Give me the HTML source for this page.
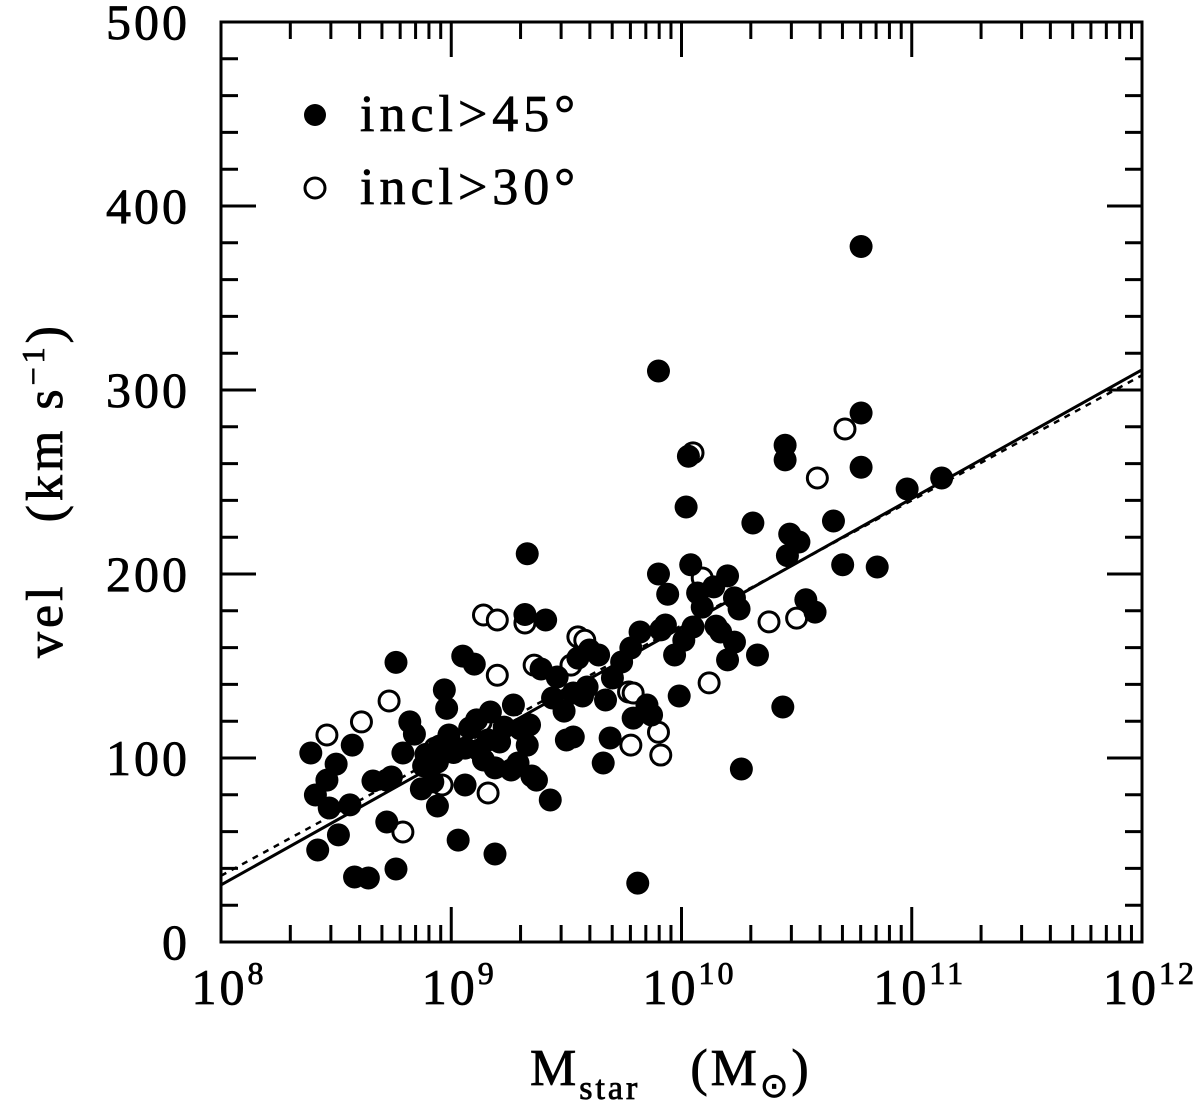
<!DOCTYPE html>
<html><head><meta charset="utf-8"><style>
html,body{margin:0;padding:0;background:#fff;}
svg{display:block;font-family:"Liberation Serif",serif;}
.t{stroke:#000;stroke-width:0.8;}
</style></head><body>
<svg id="chart" width="1200" height="1109" viewBox="0 0 1200 1109" xmlns="http://www.w3.org/2000/svg">
<g id="ticks"></g>
<g id="fits"></g>
<g id="pts"></g>
<rect x="221" y="22" width="921" height="920" fill="none" stroke="#000" stroke-width="3"/>
<g id="labels" class="t" font-size="50" letter-spacing="3"></g>
<text class="t" transform="translate(62,490) rotate(-90)" text-anchor="middle" font-size="52" letter-spacing="4">vel<tspan dx="60">(km s</tspan><tspan dy="-18" font-size="32">−1</tspan><tspan dy="18">)</tspan></text>
<text class="t" x="530" y="1085" font-size="52" letter-spacing="3">M<tspan dy="14" font-size="34">star</tspan><tspan dy="-14" dx="50">(M</tspan><tspan dy="12" font-size="34">⊙</tspan><tspan dy="-12">)</tspan></text>
<g>
<circle cx="315" cy="115" r="11" fill="#000"/>
<text class="t" x="360" y="131" font-size="52" letter-spacing="5">incl&gt;45°</text>
<circle cx="315" cy="188" r="10" fill="#fff" stroke="#000" stroke-width="3"/>
<text class="t" x="360" y="204" font-size="52" letter-spacing="5">incl&gt;30°</text>
</g>
</svg>
<script>
const filledLogM=[8.39,8.41,8.42,8.47,8.46,8.50,8.51,8.57,8.56,8.58,8.64,8.66,8.72,8.72,8.74,8.76,8.79,8.82,8.76,8.84,8.87,8.88,8.89,8.92,8.94,8.94,8.95,8.97,8.98,8.99,9.01,9.03,9.05,9.06,9.06,9.08,9.10,9.11,9.12,9.14,9.16,9.17,9.19,9.19,9.21,9.23,9.26,9.27,9.29,9.30,9.32,9.33,9.33,9.34,9.35,9.37,9.39,9.41,9.43,9.44,9.46,9.49,9.50,9.53,9.53,9.55,9.57,9.59,9.60,9.64,9.67,9.66,9.69,9.70,9.74,9.78,9.79,9.81,9.82,9.85,9.87,9.90,9.91,9.93,9.94,9.97,9.99,10.01,10.02,10.03,10.04,10.05,10.07,10.09,10.14,10.15,10.17,10.20,10.20,10.23,10.25,10.23,10.26,10.31,10.33,10.44,10.45,10.45,10.47,10.46,10.51,10.54,10.58,10.66,10.70,10.78,10.78,10.78,10.85,9.90,10.98,11.13];
const filledVel=[102.7,79.9,50,72.8,88,96.7,58.2,107,74.5,35.3,34.8,87.5,88,65.2,89.7,39.7,102.7,119.6,152,113,83.2,95.7,102,87,73.9,97.8,106.5,137,127,112.5,103,55.4,155.4,85.3,105.4,116.3,151,120.7,104.3,98.9,109.8,125,94.6,47.8,108.7,116.8,93.5,128.8,97.3,115.8,178,211,107,118,90.2,88,148.4,175,77.2,132.6,144,125.5,109.8,135.3,111.4,154.3,133.7,138.6,158.7,156,131.5,97.3,110.9,143.5,152.2,159.8,121.7,32,168.5,128.8,123.4,200,169.6,172.3,189,156,133.7,164,236.4,264,205,171.2,189.7,182,193,171.7,168.5,199,153.3,187,181,163,94,227.7,156,127.7,270,262,221.7,210,217.4,186,179.3,228.8,205,378,258,287.5,203.8,310.3,246.2,252.2];
const openLogM=[8.46,8.61,8.73,8.79,8.93,8.96,9.13,9.16,9.14,9.20,9.32,9.36,9.52,9.55,9.58,9.20,9.77,9.79,9.78,9.90,9.91,10.05,10.09,10.12,10.38,10.50,10.59,10.71];
const openVel=[112.5,119.6,131,59.8,105.4,85.3,119.6,81,177.7,175,173.4,150.5,150.5,165.8,164,145,135.9,135.3,107,114,101.6,265.8,197.8,140.8,174,176,252.2,278.8];
const fitSolid=[31,70];   // v = a + b*(logM-8)
const fitDotted=[36,68];
const yTicks=[0,100,200,300,400,500];
const xDecades=[8,9,10,11,12];

const NS="http://www.w3.org/2000/svg";
const X0=221,X1=1142,Y0=942,Y1=22;
const sx=l=>X0+(l-8)/4*(X1-X0);
const sy=v=>Y0-v/500*(Y0-Y1);
function mk(tag,attrs,parent){const e=document.createElementNS(NS,tag);for(const k in attrs)e.setAttribute(k,attrs[k]);parent.appendChild(e);return e;}
const T=document.getElementById('ticks'),L=document.getElementById('labels'),F=document.getElementById('fits'),P=document.getElementById('pts');
for(let v=0;v<=500;v+=20){const maj=v%100===0,len=maj?35:17,y=sy(v);
 const a=mk('line',{x1:X0,x2:X0+len,y1:y,y2:y,stroke:'#000','stroke-width':3},T);
 
 
 const b=mk('line',{x1:X1,x2:X1-len,y1:y,y2:y,stroke:'#000','stroke-width':3},T);
 
 }
yTicks.forEach(v=>{const t=mk('text',{x:190,y:sy(v)+17,'text-anchor':'end'},L);t.textContent=String(v);
 
 });
for(let d=8;d<12;d++){for(let m=1;m<10;m++){const l=d+Math.log10(m),maj=m===1,len=maj?35:17,x=sx(l);
 if(maj&&d===8)continue;
 const a=mk('line',{x1:x,x2:x,y1:Y0,y2:Y0-len,stroke:'#000','stroke-width':3},T);
 
 
 const b=mk('line',{x1:x,x2:x,y1:Y1,y2:Y1+len,stroke:'#000','stroke-width':3},T);
 
 }}
xDecades.forEach(d=>{const t=mk('text',{x:sx(d)+8,y:1004,'text-anchor':'middle'},L);
 
 
 t.textContent='10';const s=mk('tspan',{dy:-20,'font-size':32},t);s.textContent=String(d);});
function fit(p,dash,name){const l=mk('line',{x1:sx(8),y1:sy(p[0]),x2:sx(12),y2:sy(p[0]+p[1]*4),stroke:'#000','stroke-width':dash?2.5:3,'stroke-dasharray':dash||'none'},F);
 
 }
fit(fitDotted,'6,6','fit-line-dotted');
fit(fitSolid,null,'fit-line-solid');
openLogM.forEach((l,i)=>{const c=mk('circle',{cx:sx(l),cy:sy(openVel[i]),r:10,fill:'#fff',stroke:'#000','stroke-width':3},P);
 
 });
filledLogM.forEach((l,i)=>{const c=mk('circle',{cx:sx(l),cy:sy(filledVel[i]),r:11.5,fill:'#000'},P);
 
 });
</script>
</body></html>
